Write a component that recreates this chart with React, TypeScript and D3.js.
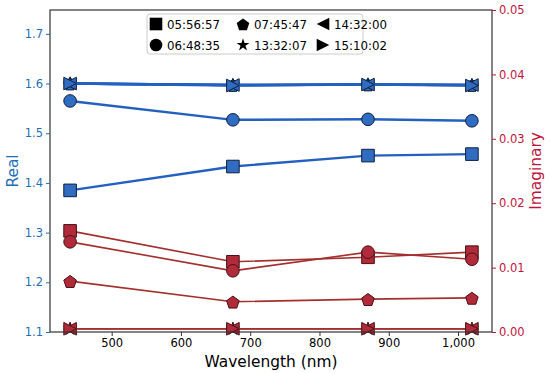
import React, { useEffect, useRef } from 'react'
import * as d3 from 'd3'

const wavelengths = [440, 675, 870, 1020]
const labels = ['05:56:57', '06:48:35', '07:45:47', '13:32:07', '14:32:00', '15:10:02']
const shapes = ['square', 'circle', 'pentagon', 'star', 'left', 'right']

const realSquare = [1.385, 1.433, 1.455, 1.458]
const realCircle = [1.565, 1.527, 1.528, 1.525]
const realPentagon = [1.6, 1.597, 1.598, 1.597]
const realStar = [1.6, 1.597, 1.598, 1.597]
const realLeft = [1.6, 1.597, 1.598, 1.597]
const realRight = [1.6, 1.596, 1.598, 1.596]

const imagSquare = [0.0157, 0.0109, 0.0116, 0.0124]
const imagCircle = [0.014, 0.0095, 0.0124, 0.0113]
const imagPentagon = [0.0079, 0.0047, 0.0051, 0.0053]
const imagStar = [0.0005, 0.0005, 0.0005, 0.0005]
const imagLeft = [0.0005, 0.0005, 0.0005, 0.0005]
const imagRight = [0.0005, 0.0005, 0.0005, 0.0005]

const realTicks = [1.1, 1.2, 1.3, 1.4, 1.5, 1.6, 1.7]
const imagTicks = [0, 0.01, 0.02, 0.03, 0.04, 0.05]
const xTicks = [500, 600, 700, 800, 900, 1000]

const BLUE = '#1f6fb8'
const RED = '#c0143c'

// marker path centred on 0,0, r ~ half width
function markerPath(shape: string, r: number) {
  if (shape === 'square') return `M${-r},${-r}H${r}V${r}H${-r}Z`
  if (shape === 'circle') return d3.symbol(d3.symbolCircle, Math.PI * r * r)()!
  if (shape === 'star') return d3.symbol(d3.symbolStar, r * r * 1.3)()!
  if (shape === 'pentagon') {
    const pts = d3.range(5).map(i => {
      const a = -Math.PI / 2 + (i * 2 * Math.PI) / 5
      return [r * 1.05 * Math.cos(a), r * 1.05 * Math.sin(a) + 1]
    })
    return 'M' + pts.map(p => p.join(',')).join('L') + 'Z'
  }
  if (shape === 'left') return `M${-r},0L${r},${-r}L${r},${r}Z`
  return `M${r},0L${-r},${-r}L${-r},${r}Z`
}

const App = () => {
  const ref = useRef<SVGSVGElement>(null)

  useEffect(() => {
    const svg = d3.select(ref.current)
    svg.selectAll('*').remove()
    const font = 'DejaVu Sans, sans-serif'
    const left = 50, right = 492, top = 10, bottom = 332

    const x = d3.scaleLinear().domain([411, 1049]).range([left, right])
    const yR = d3.scaleLinear().domain([1.1, 1.748]).range([bottom, top])
    const yI = d3.scaleLinear().domain([0, 0.05]).range([bottom, top])

    const real = [realSquare, realCircle, realPentagon, realStar, realLeft, realRight]
    const imag = [imagSquare, imagCircle, imagPentagon, imagStar, imagLeft, imagRight]

    const g = svg.append('g')

    const line = (yS: d3.ScaleLinear<number, number>) =>
      d3.line<number>().x((_, i) => x(wavelengths[i])).y(d => yS(d))

    real.forEach((vals, k) => {
      g.append('path').attr('d', line(yR)(vals)).attr('fill', 'none')
        .attr('stroke', '#2360c0').attr('stroke-width', 2.4)
      vals.forEach((v, i) => {
        g.append('path').attr('d', markerPath(shapes[k], 6.3))
          .attr('transform', `translate(${x(wavelengths[i])},${yR(v)})`)
          .attr('fill', '#2f6cc2').attr('stroke', '#0f1f3f').attr('stroke-width', 1)
      })
    })
    imag.forEach((vals, k) => {
      g.append('path').attr('d', line(yI)(vals)).attr('fill', 'none')
        .attr('stroke', '#a3302e').attr('stroke-width', 1.6)
      vals.forEach((v, i) => {
        g.append('path').attr('d', markerPath(shapes[k], 6.3))
          .attr('transform', `translate(${x(wavelengths[i])},${yI(v)})`)
          .attr('fill', '#b02a3a').attr('stroke', '#4a1015').attr('stroke-width', 1)
      })
    })

    // frame
    svg.append('rect').attr('x', left).attr('y', top).attr('width', right - left)
      .attr('height', bottom - top).attr('fill', 'none').attr('stroke', '#333').attr('stroke-width', 1.2)

    // x axis
    const xa = svg.append('g').attr('transform', `translate(0,${bottom})`)
      .call(d3.axisBottom(x).tickValues(xTicks).tickSize(4).tickPadding(3))
    xa.select('.domain').remove()
    xa.selectAll('text').attr('font-size', 11.5).attr('font-family', font).attr('fill', '#000')
    xa.selectAll('line').attr('stroke', '#333')

    const ya = svg.append('g').attr('transform', `translate(${left},0)`)
      .call(d3.axisLeft(yR).tickValues(realTicks).tickFormat(d3.format('.1f')).tickSize(4).tickPadding(3))
    ya.select('.domain').remove()
    ya.selectAll('text').attr('font-size', 11.5).attr('font-family', font).attr('fill', BLUE)
    ya.selectAll('line').attr('stroke', BLUE)

    const yb = svg.append('g').attr('transform', `translate(${right},0)`)
      .call(d3.axisRight(yI).tickValues(imagTicks).tickFormat(d3.format('.2f')).tickSize(4).tickPadding(3))
    yb.select('.domain').remove()
    yb.selectAll('text').attr('font-size', 11.5).attr('font-family', font).attr('fill', RED)
    yb.selectAll('line').attr('stroke', RED)

    svg.append('text').attr('x', (left + right) / 2).attr('y', 367).attr('text-anchor', 'middle')
      .attr('font-size', 15.4).attr('font-family', font).text('Wavelength (nm)')
    svg.append('text').attr('transform', `translate(18,${(top + bottom) / 2}) rotate(-90)`)
      .attr('text-anchor', 'middle').attr('font-size', 15.4).attr('font-family', font)
      .attr('fill', BLUE).text('Real')
    svg.append('text').attr('transform', `translate(541,${(top + bottom) / 2}) rotate(-90)`)
      .attr('text-anchor', 'middle').attr('font-size', 15.4).attr('font-family', font)
      .attr('fill', RED).text('Imaginary')

    // legend
    const lg = svg.append('g')
    lg.append('rect').attr('x', 147).attr('y', 14).attr('width', 216).attr('height', 40).attr('rx', 3)
      .attr('fill', 'white').attr('fill-opacity', 0.85).attr('stroke', '#ccc')
    const colX = [153, 240, 320]
    const rowY = [24, 45]
    labels.forEach((lab, k) => {
      const col = Math.floor(k / 2), row = k % 2
      lg.append('path').attr('d', markerPath(shapes[k], 6.3))
        .attr('transform', `translate(${colX[col] + 3},${rowY[row]})`).attr('fill', '#000')
      lg.append('text').attr('x', colX[col] + 14).attr('y', rowY[row] + 4.5)
        .attr('font-size', 11.8).attr('font-family', font).text(lab)
    })
  }, [])

  return <svg ref={ref} width={550} height={373} style={{ position: 'absolute', left: 0, top: 0 }} />
}

export default App
